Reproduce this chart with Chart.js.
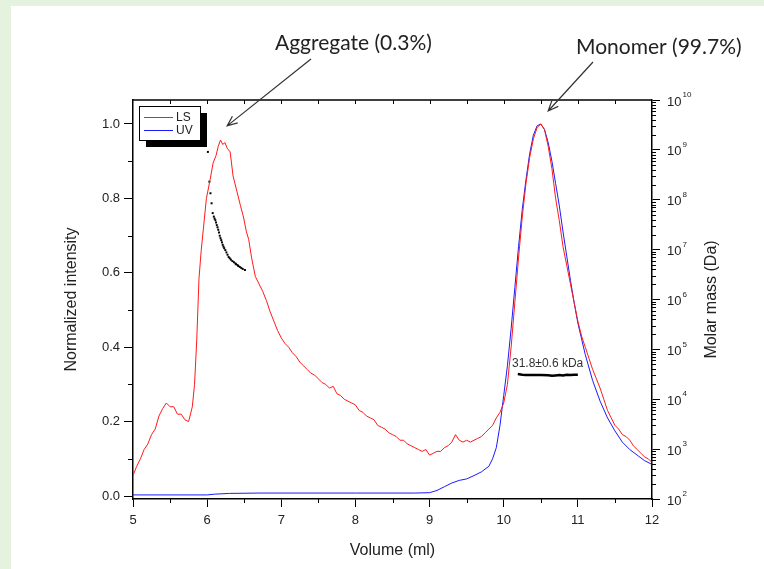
<!DOCTYPE html>
<html>
<head>
<meta charset="utf-8">
<script src="https://cdn.jsdelivr.net/npm/chart.js@4.4.0/dist/chart.umd.min.js"></script>
<style>
html, body { margin: 0; padding: 0; background: #fff; }
canvas { display: block; }
</style>
</head>
<body>
<canvas id="myChart" width="764" height="569"></canvas>
<script>
// LS (light scattering) trace
const lsVolume = [5.00, 5.05, 5.10, 5.15, 5.20, 5.25, 5.30, 5.35, 5.40, 5.45, 5.50, 5.55, 5.60, 5.65, 5.70, 5.75, 5.80, 5.83, 5.86, 5.89,
    5.92, 5.95, 5.99, 6.04, 6.08, 6.12, 6.15, 6.18, 6.21, 6.24, 6.27, 6.31, 6.35, 6.40, 6.45, 6.49, 6.53, 6.56, 6.60, 6.65,
    6.70, 6.75, 6.80, 6.85, 6.90, 6.95, 7.00, 7.05, 7.10, 7.15, 7.20, 7.25, 7.30, 7.35, 7.40, 7.45, 7.50, 7.55, 7.60, 7.65,
    7.70, 7.75, 7.80, 7.85, 7.90, 7.95, 8.00, 8.05, 8.10, 8.15, 8.20, 8.25, 8.30, 8.35, 8.40, 8.45, 8.50, 8.55, 8.60, 8.65,
    8.70, 8.75, 8.80, 8.85, 8.90, 8.95, 9.00, 9.05, 9.10, 9.15, 9.20, 9.25, 9.30, 9.35, 9.40, 9.45, 9.50, 9.55, 9.60, 9.65,
    9.70, 9.75, 9.80, 9.85, 9.90, 9.95, 10.00,
    10.05, 10.10, 10.15, 10.20, 10.25, 10.30, 10.35, 10.40, 10.45, 10.50, 10.55, 10.60, 10.65, 10.70, 10.75, 10.80, 10.85, 10.90, 10.95, 11.00,
    11.05, 11.10, 11.15, 11.20, 11.25, 11.30, 11.35, 11.40, 11.45, 11.50, 11.55, 11.60, 11.65, 11.70, 11.75, 11.80, 11.85, 11.90, 11.95, 12.00];
const lsIntensity = [0.055, 0.08, 0.10, 0.125, 0.14, 0.165, 0.18, 0.215, 0.235, 0.25, 0.24, 0.24, 0.22, 0.22, 0.205, 0.20, 0.24, 0.30, 0.42, 0.585,
    0.66, 0.72, 0.80, 0.85, 0.895, 0.915, 0.94, 0.957, 0.945, 0.95, 0.935, 0.925, 0.86, 0.82, 0.78, 0.75, 0.71, 0.69, 0.64, 0.59,
    0.57, 0.55, 0.525, 0.495, 0.47, 0.445, 0.425, 0.41, 0.40, 0.385, 0.375, 0.36, 0.35, 0.34, 0.33, 0.325, 0.315, 0.305, 0.30, 0.29,
    0.295, 0.275, 0.27, 0.26, 0.255, 0.25, 0.245, 0.23, 0.225, 0.215, 0.21, 0.205, 0.19, 0.185, 0.18, 0.17, 0.165, 0.16, 0.15, 0.15,
    0.14, 0.135, 0.13, 0.125, 0.12, 0.125, 0.11, 0.115, 0.12, 0.12, 0.13, 0.135, 0.145, 0.165, 0.15, 0.145, 0.15, 0.145, 0.15, 0.155,
    0.16, 0.17, 0.18, 0.19, 0.21, 0.225, 0.25,
    0.30, 0.40, 0.52, 0.64, 0.75, 0.84, 0.91, 0.96, 0.99, 1.00, 0.985, 0.94, 0.88, 0.80, 0.74, 0.67, 0.62, 0.57, 0.52, 0.47,
    0.43, 0.40, 0.37, 0.34, 0.315, 0.29, 0.26, 0.23, 0.21, 0.19, 0.18, 0.165, 0.16, 0.15, 0.135, 0.125, 0.115, 0.105, 0.10, 0.09];

// UV trace
const uvVolume = [5.00, 6.00, 6.10, 6.30, 6.70, 8.00, 8.80, 9.00, 9.10, 9.20, 9.30, 9.40, 9.50, 9.60, 9.70, 9.80, 9.85, 9.90, 9.95, 10.00,
    10.05, 10.10, 10.15, 10.20, 10.25, 10.30, 10.35, 10.40, 10.45, 10.50, 10.55, 10.60, 10.65, 10.70, 10.75, 10.80, 10.85, 10.90, 10.95, 11.00,
    11.10, 11.20, 11.30, 11.40, 11.50, 11.60, 11.70, 11.80, 11.90, 12.00];
const uvIntensity = [0.003, 0.003, 0.005, 0.007, 0.008, 0.008, 0.008, 0.009, 0.015, 0.025, 0.035, 0.042, 0.046, 0.055, 0.065, 0.08, 0.10, 0.13, 0.19, 0.27,
    0.35, 0.45, 0.56, 0.67, 0.77, 0.85, 0.92, 0.97, 0.995, 1.00, 0.985, 0.95, 0.90, 0.84, 0.78, 0.71, 0.645, 0.58, 0.52, 0.465,
    0.38, 0.31, 0.255, 0.21, 0.175, 0.145, 0.125, 0.11, 0.095, 0.085];

// molar mass (Da) across the aggregate peak
const aggVolume = [6.01, 6.03, 6.045, 6.06, 6.075, 6.09, 6.10, 6.11, 6.12, 6.13, 6.14, 6.15, 6.16, 6.17, 6.18, 6.19, 6.20, 6.21, 6.22, 6.23,
    6.245, 6.26, 6.275, 6.29, 6.305, 6.32, 6.34, 6.36, 6.38, 6.39, 6.41, 6.42, 6.44, 6.46, 6.48, 6.51];
const aggMass = [9.1e8, 2.3e8, 1.35e8, 8.5e7, 5.4e7, 4.6e7, 4.2e7, 3.9e7, 3.5e7, 3.1e7, 2.8e7, 2.5e7, 2.2e7, 1.9e7, 1.7e7, 1.55e7, 1.4e7, 1.25e7, 1.15e7, 1.07e7,
    9.8e6, 8.8e6, 7.9e6, 7.1e6, 6.7e6, 6.3e6, 5.9e6, 5.6e6, 5.3e6, 5.1e6, 4.9e6, 4.7e6, 4.5e6, 4.3e6, 4.1e6, 3.9e6];

// molar mass across the monomer peak
const monoVolume = [10.19, 10.25, 10.30, 10.40, 10.50, 10.60, 10.65, 10.70, 10.75, 10.80, 10.85, 10.90, 10.95, 11.00];
const monoMass = [32000, 31000, 30500, 30500, 30500, 30300, 29500, 30000, 30500, 30000, 31000, 30500, 31000, 31000];

const xTicks = [5, 6, 7, 8, 9, 10, 11, 12];
const yTicks = [0.0, 0.2, 0.4, 0.6, 0.8, 1.0];
const massExponents = [2, 3, 4, 5, 6, 7, 8, 9, 10];

const pts = (xs, ys) => xs.map((x, i) => ({ x: x, y: ys[i] }));
const SANS = '"Liberation Sans", Arial, sans-serif';

const frame = {
    id: 'frame',
    beforeDraw(chart) {
        const c = chart.ctx;
        c.save();
        c.fillStyle = '#e5f2de';
        c.fillRect(0, 0, chart.width, chart.height);
        c.fillStyle = '#fff';
        c.fillRect(11, 6, chart.width - 11, chart.height - 6);
        c.restore();
    },
    afterDraw(chart) {
        const c = chart.ctx;
        const a = chart.chartArea;
        const sx = chart.scales.x, sy = chart.scales.y, sm = chart.scales.y2;
        c.save();
        c.strokeStyle = '#000';
        c.lineWidth = 1.5;
        // top border
        c.beginPath();
        c.moveTo(a.left, a.top);
        c.lineTo(a.right, a.top);
        c.stroke();
        c.lineWidth = 1;
        c.beginPath();
        for (let v = 5.5; v < 12; v += 0.5) {
            const px = Math.round(sx.getPixelForValue(v)) + 0.5;
            c.moveTo(px, a.top);
            c.lineTo(px, a.top + 4);
            if (v % 1 !== 0) {
                c.moveTo(px, a.bottom);
                c.lineTo(px, a.bottom + 4);
            }
        }
        for (let v = 0.1; v < 1.05; v += 0.2) {
            const py = Math.round(sy.getPixelForValue(v)) + 0.5;
            c.moveTo(a.left - 5, py);
            c.lineTo(a.left, py);
        }
        for (let k = 2; k < 10; k++) {
            for (let m = 2; m <= 9; m++) {
                const py = Math.round(sm.getPixelForValue(m * Math.pow(10, k))) + 0.5;
                c.moveTo(a.right, py);
                c.lineTo(a.right + 4, py);
            }
        }
        c.stroke();

        // right axis labels 10^n
        c.fillStyle = '#222';
        c.textBaseline = 'middle';
        c.textAlign = 'left';
        massExponents.forEach(k => {
            const py = sm.getPixelForValue(Math.pow(10, k));
            c.font = '13px ' + SANS;
            c.fillText('10', a.right + 15, py + 2);
            const w = c.measureText('10').width;
            c.font = '8px ' + SANS;
            c.fillText(String(k), a.right + 16 + w, py - 5);
        });

        // right axis title
        c.save();
        c.translate(712, (a.top + a.bottom) / 2);
        c.rotate(-Math.PI / 2);
        c.textAlign = 'center';
        c.font = '16px ' + SANS;
        c.fillText('Molar mass (Da)', 0, 0);
        c.restore();

        // monomer mass label
        c.font = '12px ' + SANS;
        c.fillStyle = '#333';
        c.fillText('31.8\u00b10.6 kDa', 512, 364);

        // legend with drop shadow
        const lx = 139, ly = 106, lw = 61, lh = 34;
        c.fillStyle = '#000';
        c.fillRect(lx + 7, ly + 7, lw, lh);
        c.fillStyle = '#fff';
        c.fillRect(lx, ly, lw, lh);
        c.lineWidth = 1;
        c.strokeStyle = '#000';
        c.strokeRect(lx + 0.5, ly + 0.5, lw, lh);
        const ds = chart.data.datasets;
        [0, 1].forEach(i => {
            const yy = ly + 11 + i * 13;
            c.strokeStyle = ds[i].borderColor;
            c.beginPath();
            c.moveTo(lx + 5, yy + 0.5);
            c.lineTo(lx + 34, yy + 0.5);
            c.stroke();
            c.fillStyle = '#222';
            c.font = '12px ' + SANS;
            c.fillText(ds[i].label, lx + 37, yy + 1);
        });

        // peak annotations
        c.fillStyle = '#222';
        c.font = '21px Lato, "Open Sans", sans-serif';
        c.textAlign = 'left';
        c.fillText('Aggregate (0.3%)', 275, 43);
        c.fillText('Monomer (99.7%)', 576, 47);
        const arrow = (x0, y0, x1, y1) => {
            const ang = Math.atan2(y1 - y0, x1 - x0);
            c.strokeStyle = '#333';
            c.lineWidth = 1.2;
            c.beginPath();
            c.moveTo(x0, y0);
            c.lineTo(x1, y1);
            c.moveTo(x1 - 11 * Math.cos(ang - 0.4), y1 - 11 * Math.sin(ang - 0.4));
            c.lineTo(x1, y1);
            c.lineTo(x1 - 11 * Math.cos(ang + 0.4), y1 - 11 * Math.sin(ang + 0.4));
            c.stroke();
        };
        arrow(311, 59, sx.getPixelForValue(6.27), sy.getPixelForValue(0.995));
        arrow(593, 62, sx.getPixelForValue(10.6), sy.getPixelForValue(1.035));
        c.restore();
    }
};

const ctx = document.getElementById('myChart').getContext('2d');
const chart = new Chart(ctx, {
    type: 'scatter',
    data: {
        datasets: [{
            label: 'LS',
            data: pts(lsVolume, lsIntensity),
            showLine: true,
            borderColor: '#ff1a1a',
            borderWidth: 1,
            pointRadius: 0,
            yAxisID: 'y'
        }, {
            label: 'UV',
            data: pts(uvVolume, uvIntensity),
            showLine: true,
            borderColor: '#1a1aff',
            borderWidth: 1,
            pointRadius: 0,
            yAxisID: 'y'
        }, {
            label: 'Molar mass aggregate',
            data: pts(aggVolume, aggMass),
            showLine: false,
            pointStyle: 'rect',
            pointRadius: 1.4,
            backgroundColor: '#000',
            borderColor: '#000',
            borderWidth: 0,
            yAxisID: 'y2'
        }, {
            label: 'Molar mass monomer',
            data: pts(monoVolume, monoMass),
            showLine: true,
            borderColor: '#000',
            borderWidth: 2.5,
            pointRadius: 0,
            yAxisID: 'y2'
        }]
    },
    options: {
        responsive: false,
        animation: false,
        devicePixelRatio: 1,
        layout: { padding: { left: 58, top: 100, right: 0, bottom: 5 } },
        plugins: { legend: { display: false }, tooltip: { enabled: false } },
        scales: {
            x: {
                type: 'linear', position: 'bottom', min: 5, max: 12,
                afterBuildTicks: s => { s.ticks = xTicks.map(v => ({ value: v })); },
                afterFit: s => { s.height = 65; },
                grid: { drawOnChartArea: false, tickLength: 8, tickColor: '#000', tickWidth: 1 },
                border: { color: '#000', width: 1.5 },
                ticks: { color: '#222', font: { family: SANS, size: 13 }, padding: 6, maxRotation: 0 },
                title: { display: true, text: 'Volume (ml)', color: '#222', font: { family: SANS, size: 16 }, padding: { top: 0, bottom: 4 } }
            },
            y: {
                type: 'linear', position: 'left', min: -0.008, max: 1.0645,
                afterBuildTicks: s => { s.ticks = yTicks.map(v => ({ value: v })); },
                afterFit: s => { s.width = 75; },
                grid: { drawOnChartArea: false, tickLength: 9, tickColor: '#000', tickWidth: 1 },
                border: { color: '#000', width: 1.5 },
                ticks: { color: '#222', font: { family: SANS, size: 13 }, padding: 4, callback: v => v.toFixed(1) },
                title: { display: true, text: 'Normalized intensity', color: '#222', font: { family: SANS, size: 16 }, padding: { top: 4, bottom: 0 } }
            },
            y2: {
                type: 'logarithmic', position: 'right', min: 100, max: 1e10,
                afterBuildTicks: s => { s.ticks = massExponents.map(k => ({ value: Math.pow(10, k) })); },
                afterFit: s => { s.width = 112; },
                grid: { drawOnChartArea: false, tickLength: 8, tickColor: '#000', tickWidth: 1 },
                border: { color: '#000', width: 1.5 },
                ticks: { display: false }
            }
        }
    },
    plugins: [frame]
});
</script>
</body>
</html>
